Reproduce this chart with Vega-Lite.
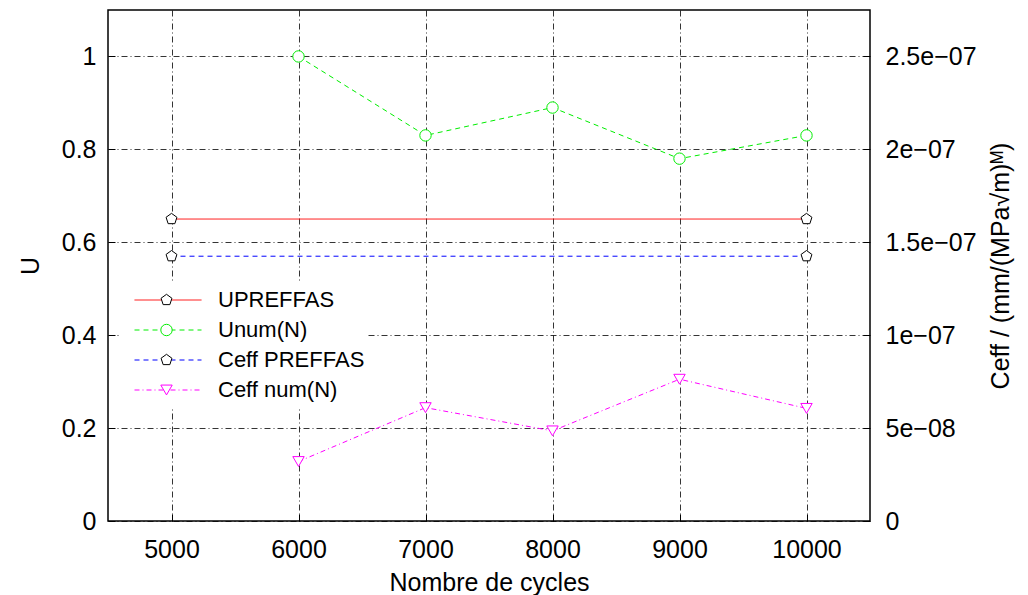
{
  "$schema": "https://vega.github.io/schema/vega-lite/v6.json",
  "width": 762,
  "height": 511,
  "autosize": "none",
  "padding": {"left": 108, "top": 10, "right": 158, "bottom": 74},
  "background": "white",
  "datasets": {
    "u": [
      {"cycles": 5000, "series": "UPREFFAS", "value": 0.65},
      {"cycles": 10000, "series": "UPREFFAS", "value": 0.65},
      {"cycles": 6000, "series": "Unum(N)", "value": 1.0},
      {"cycles": 7000, "series": "Unum(N)", "value": 0.83},
      {"cycles": 8000, "series": "Unum(N)", "value": 0.89},
      {"cycles": 9000, "series": "Unum(N)", "value": 0.78},
      {"cycles": 10000, "series": "Unum(N)", "value": 0.83}
    ],
    "c": [
      {"cycles": 5000, "series": "Ceff PREFFAS", "value": 1.425e-7},
      {"cycles": 10000, "series": "Ceff PREFFAS", "value": 1.425e-7},
      {"cycles": 6000, "series": "Ceff num(N)", "value": 3.2e-8},
      {"cycles": 7000, "series": "Ceff num(N)", "value": 6.1e-8},
      {"cycles": 8000, "series": "Ceff num(N)", "value": 4.85e-8},
      {"cycles": 9000, "series": "Ceff num(N)", "value": 7.63e-8},
      {"cycles": 10000, "series": "Ceff num(N)", "value": 6.06e-8}
    ]
  },
  "config": {
    "font": "Liberation Sans",
    "view": {"stroke": "black", "strokeWidth": 1.5},
    "axis": {
      "labelFont": "Liberation Sans", "labelFontSize": 25, "labelColor": "black",
      "titleFont": "Liberation Sans", "titleFontSize": 25, "titleFontWeight": "normal", "titleColor": "black",
      "domain": false, "tickColor": "black", "tickSize": -7, "tickWidth": 1,
      "gridColor": "black", "gridDash": [6, 3, 1, 3], "gridWidth": 0.8, "gridOpacity": 1
    }
  },
  "encoding": {
    "x": {
      "field": "cycles", "type": "quantitative",
      "scale": {"domain": [4500, 10500], "nice": false, "zero": false},
      "axis": {"title": "Nombre de cycles", "values": [5000, 6000, 7000, 8000, 9000, 10000], "format": "d", "grid": true, "labelPadding": 23, "titlePadding": 8}
    }
  },
  "layer": [
    {
      "data": {"name": "u"},
      "transform": [
        {"calculate": "indexof(['UPREFFAS','Unum(N)','Ceff PREFFAS','Ceff num(N)'], datum.series)", "as": "marker"}
      ],
      "encoding": {
        "y": {
          "field": "value", "type": "quantitative",
          "scale": {"domain": [0, 1.1], "nice": false},
          "axis": {"orient": "left", "title": "U", "values": [0, 0.2, 0.4, 0.6, 0.8, 1], "format": "~g", "grid": true, "labelPadding": 19, "titlePadding": 18}
        }
      },
      "layer": [
        {
          "mark": {"type": "line", "strokeWidth": 1},
          "encoding": {
            "color": {
              "field": "series", "type": "nominal",
              "scale": {"domain": ["UPREFFAS", "Unum(N)", "Ceff PREFFAS", "Ceff num(N)"], "range": ["#ff0000", "#00ee00", "#0000ff", "#ff00ff"]},
              "legend": {"orient": "none", "legendX": 13, "legendY": 272, "padding": 3, "clipHeight": 30, "rowPadding": 0, "title": null, "symbolType": "stroke", "symbolSize": 4489, "symbolStrokeWidth": 1, "symbolOffset": 10, "labelOffset": 16, "labelFontSize": 22, "labelFont": "Liberation Sans", "labelColor": "black", "labelLimit": 400, "fillColor": "white"}
            },
            "strokeDash": {
              "field": "series", "type": "nominal",
              "scale": {"domain": ["UPREFFAS", "Unum(N)", "Ceff PREFFAS", "Ceff num(N)"], "range": [[1, 0], [5, 4], [5, 4], [5, 3, 1, 3]]},
              "legend": {"orient": "none", "legendX": 13, "legendY": 272, "padding": 3, "clipHeight": 30, "rowPadding": 0, "title": null, "symbolType": "stroke", "symbolSize": 4489, "symbolStrokeWidth": 1, "symbolOffset": 10, "labelOffset": 16, "labelFontSize": 22, "labelFont": "Liberation Sans", "labelColor": "black", "labelLimit": 400, "fillColor": "white"}
            }
          }
        },
        {
          "mark": {"type": "point", "filled": true, "fill": "white", "strokeWidth": 1, "size": 130, "opacity": 1},
          "encoding": {
            "stroke": {
              "field": "marker", "type": "nominal",
              "scale": {"domain": [0, 1, 2, 3], "range": ["black", "#00ee00", "black", "#ff00ff"]},
              "legend": {"orient": "none", "legendX": 44.5, "legendY": 272, "padding": 3, "clipHeight": 30, "rowPadding": 0, "title": null, "symbolSize": 130, "symbolStrokeWidth": 1, "symbolFillColor": "white", "labelOpacity": 0, "labelFontSize": 22}
            },
            "shape": {
              "field": "marker", "type": "nominal",
              "scale": {"domain": [0, 1, 2, 3], "range": ["M0,-1L0.951,-0.309L0.588,0.809L-0.588,0.809L-0.951,-0.309Z", "circle", "M0,-1L0.951,-0.309L0.588,0.809L-0.588,0.809L-0.951,-0.309Z", "triangle-down"]},
              "legend": {"orient": "none", "legendX": 44.5, "legendY": 272, "padding": 3, "clipHeight": 30, "rowPadding": 0, "title": null, "symbolSize": 130, "symbolStrokeWidth": 1, "symbolFillColor": "white", "labelOpacity": 0, "labelFontSize": 22}
            }
          }
        }
      ]
    },
    {
      "data": {"name": "c"},
      "transform": [
        {"calculate": "indexof(['UPREFFAS','Unum(N)','Ceff PREFFAS','Ceff num(N)'], datum.series)", "as": "marker"}
      ],
      "encoding": {
        "y": {
          "field": "value", "type": "quantitative",
          "scale": {"domain": [0, 2.75e-7], "nice": false},
          "axis": {"orient": "right", "title": "Ceff / (mm/(MPa√m)ᴹ)", "titleAngle": 270, "titleBaseline": "top", "values": [0, 5e-8, 1e-7, 1.5e-7, 2e-7, 2.5e-7], "labelExpr": "datum.value == 0 ? '0' : replace(format(datum.value, '~e'), 'e-', 'e−0')", "grid": false, "labelPadding": 22, "titlePadding": 12}
        }
      },
      "layer": [
        {
          "mark": {"type": "line", "strokeWidth": 1},
          "encoding": {
            "color": {"field": "series", "type": "nominal"},
            "strokeDash": {"field": "series", "type": "nominal"}
          }
        },
        {
          "mark": {"type": "point", "filled": true, "fill": "white", "strokeWidth": 1, "size": 130, "opacity": 1},
          "encoding": {
            "stroke": {"field": "marker", "type": "nominal"},
            "shape": {"field": "marker", "type": "nominal"}
          }
        }
      ]
    }
  ],
  "resolve": {"scale": {"y": "independent"}, "axis": {"y": "independent"}}
}
